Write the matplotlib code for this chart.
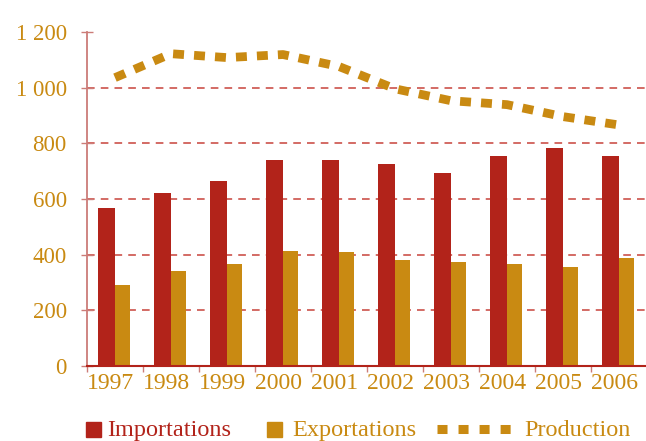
import matplotlib
matplotlib.use('Agg')
import matplotlib.pyplot as plt
import matplotlib.transforms as mtransforms
import numpy as np
from matplotlib.patches import Rectangle
from matplotlib.lines import Line2D

# data
years = ['1997', '1998', '1999', '2000', '2001', '2002', '2003', '2004', '2005', '2006']
importations = [568, 622, 665, 741, 741, 727, 694, 755, 784, 755]
exportations = [291, 342, 367, 414, 410, 381, 374, 367, 356, 388]
production = [1036, 1122, 1108, 1119, 1076, 996, 953, 939, 896, 866]

RED = '#B2231A'
GOLD = '#C98A12'
PINK = '#CC7C78'
W, H = 646, 441

plt.rcParams['font.family'] = ['Liberation Serif', 'DejaVu Serif']

fig = plt.figure(figsize=(W / 100, H / 100), dpi=100)
ax = fig.add_axes([87 / W, 75 / H, 560 / W, 334 / H])

x = np.arange(len(years))
ax.bar(x, importations, width=-0.30, align='edge', color=RED, zorder=2)
ax.bar(x, exportations, width=0.27, align='edge', color=GOLD, zorder=2)
ax.plot(x, production, color=GOLD, lw=6.3, dashes=(1.25, 1.15),
        solid_capstyle='butt', dash_capstyle='butt', zorder=3)

# grid
for v in [200, 400, 600, 800, 1000]:
    ax.axhline(v, color='#C8423A', lw=1.1, dashes=(5, 4), zorder=1)

ax.set_xlim(-0.5, 9.5)
ax.set_ylim(0, 1200)
ax.set_yticks([0, 200, 400, 600, 800, 1000, 1200])
ax.set_yticklabels(['0', '200', '400', '600', '800', '1 000', '1 200'])
ax.set_xticks(x)
ax.set_xticklabels(years)
ax.set_xticks(np.arange(-0.5, 9.6, 1), minor=True)

ax.tick_params(axis='y', direction='inout', length=9, width=1, color=PINK,
               labelsize=16.5, labelcolor=GOLD, pad=10)
ax.tick_params(axis='x', which='major', length=0, labelsize=17,
               labelcolor=GOLD, pad=5)
ax.tick_params(axis='x', which='minor', direction='out', length=4,
               width=1, color=PINK)
shift = mtransforms.ScaledTranslation(-3 / 72, 0, fig.dpi_scale_trans)
for lab in ax.get_xticklabels():
    lab.set_transform(lab.get_transform() + shift)

for s in ['top', 'right']:
    ax.spines[s].set_visible(False)
ax.spines['left'].set_color(PINK)
ax.spines['left'].set_linewidth(1.3)
ax.spines['bottom'].set_color(RED)
ax.spines['bottom'].set_linewidth(1.5)
ax.spines['bottom'].set_zorder(4)

# legend, drawn by hand along the bottom edge
def fx(px):
    return px / W

def fy(py):
    return 1 - py / H

base = 436  # text baseline in pixels
fig.add_artist(Rectangle((fx(86), fy(base + 1)), 15 / W, 15 / H, color=RED,
                         transform=fig.transFigure))
fig.add_artist(Rectangle((fx(267), fy(base + 1)), 15 / W, 15 / H, color=GOLD,
                         transform=fig.transFigure))
fig.add_artist(Line2D([fx(437), fx(513)], [fy(base - 7.5), fy(base - 7.5)],
                      color=GOLD, lw=6.5, dashes=(1.11, 1.22),
                      dash_capstyle='butt', transform=fig.transFigure))
fig.text(fx(107), fy(base), 'Importations', color=RED, fontsize=17.5,
         va='baseline')
fig.text(fx(292), fy(base), 'Exportations', color=GOLD, fontsize=17.5,
         va='baseline')
fig.text(fx(524), fy(base), 'Production', color=GOLD, fontsize=17.5,
         va='baseline')

fig.savefig('out.png', dpi=100)
